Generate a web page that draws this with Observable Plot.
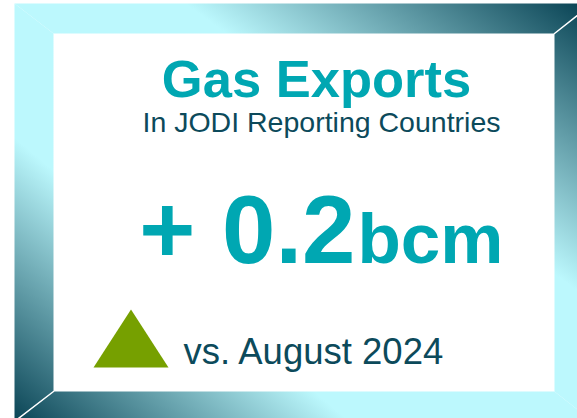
<!DOCTYPE html>
<html>
<head>
<meta charset="utf-8">
<script src="https://cdn.jsdelivr.net/npm/d3@7"></script>
<script src="https://cdn.jsdelivr.net/npm/@observablehq/plot@0.6"></script>
<style>
  html, body { margin: 0; padding: 0; background: #ffffff; }
  #chart svg { display: block; }
</style>
</head>
<body>
<div id="chart"></div>
<script>
// ---- Data ----
const titles = ["Gas Exports"];
const subtitles = ["In JODI Reporting Countries"];
const changeValues = [0.2];
const units = ["bcm"];
const comparisons = ["August 2024"];

const W = 577, H = 418;
const teal = "#00a7b2", darkTeal = "#0c4a5b", green = "#76a000";
const light = "#bcf8fd", dark = "#0b4556";

// Frame geometry (decoration)
const oL = 14, oT = 3, oR = 592, oB = 421;
const iL = 53, iT = 33, iR = 554, iB = 391;
const faces = [
  {face: "top", grad: "gTR", pts: [[oL,oT],[oR,oT],[iR,iT],[iL,iT],[oL,oT]]},
  {face: "right", grad: "gTR", pts: [[oR,oT],[oR,oB],[iR,iB],[iR,iT],[oR,oT]]},
  {face: "bottom", grad: "gBL", pts: [[oL,oB],[oR,oB],[iR,iB],[iL,iB],[oL,oB]]},
  {face: "left", grad: "gBL", pts: [[oL,oT],[iL,iT],[iL,iB],[oL,oB],[oL,oT]]}
];
const faceRows = faces.flatMap(f => f.pts.map(([x, y]) => ({face: f.face, grad: f.grad, x, y})));
const mitres = [
  {k: "tr", x: iR, y: iT}, {k: "tr", x: oR, y: oT},
  {k: "bl", x: iL, y: iB}, {k: "bl", x: oL, y: oB}
];

// Custom up-triangle symbol
const triangleUp = {
  draw(ctx, size) {
    const s = Math.sqrt(size);
    const hw = s * 0.705, hh = s * 0.545;
    ctx.moveTo(0, -hh);
    ctx.lineTo(hw, hh);
    ctx.lineTo(-hw, hh);
    ctx.closePath();
  }
};

const change = changeValues[0];
const sign = change >= 0 ? "+" : "\u2212";
const numText = `${sign} ${Math.abs(change).toFixed(1)}`;
const font = "Liberation Sans, Arial, sans-serif";

const chart = Plot.plot({
  width: W, height: H,
  margin: 0,
  x: {domain: [0, W], range: [0, W], axis: null},
  y: {domain: [0, H], range: [0, H], axis: null},
  marks: [
    ...faces.map(f => Plot.line(faceRows.filter(d => d.face === f.face), {
      x: "x", y: "y", fill: `url(#${f.grad})`, stroke: "none"
    })),
    Plot.line(mitres, {x: "x", y: "y", z: "k", stroke: "#ffffff", strokeWidth: 1.5}),
    Plot.text(titles, {x: 316, y: 96, text: d => d, fill: teal, fontSize: 52.5, fontWeight: "bold",
      fontFamily: font, textAnchor: "middle", lineAnchor: "bottom"}),
    Plot.text(subtitles, {x: 321, y: 131, text: d => d, fill: darkTeal, fontSize: 28.5,
      fontFamily: font, textAnchor: "middle", lineAnchor: "bottom"}),
    Plot.text([numText], {x: 355, y: 262, text: d => d, fill: teal, fontSize: 96, fontWeight: "bold",
      fontFamily: font, textAnchor: "end", lineAnchor: "bottom"}),
    Plot.text(units, {x: 357, y: 262, text: d => d, fill: teal, fontSize: 71, fontWeight: "bold",
      fontFamily: font, textAnchor: "start", lineAnchor: "bottom"}),
    Plot.dot(changeValues.filter(v => v >= 0), {x: 130.5, y: 338, r: 30, symbol: triangleUp,
      fill: green, stroke: "none"}),
    Plot.text(comparisons, {x: 183, y: 363, text: d => `vs. ${d}`, fill: darkTeal, fontSize: 36.5,
      fontFamily: font, textAnchor: "start", lineAnchor: "bottom"})
  ]
});

// Gradient definitions for the frame faces
const ns = "http://www.w3.org/2000/svg";
const defs = document.createElementNS(ns, "defs");
function grad(id, x1, y1, x2, y2) {
  const g = document.createElementNS(ns, "linearGradient");
  g.setAttribute("id", id);
  g.setAttribute("gradientUnits", "userSpaceOnUse");
  g.setAttribute("x1", x1); g.setAttribute("y1", y1);
  g.setAttribute("x2", x2); g.setAttribute("y2", y2);
  [[0, light], [1, dark]].forEach(([o, c]) => {
    const s = document.createElementNS(ns, "stop");
    s.setAttribute("offset", o); s.setAttribute("stop-color", c);
    g.appendChild(s);
  });
  defs.appendChild(g);
}
grad("gTR", 440, 190, 577, 3);
grad("gBL", 152, 254, 13, 418);
chart.insertBefore(defs, chart.firstChild);

document.getElementById("chart").appendChild(chart);
</script>
</body>
</html>
